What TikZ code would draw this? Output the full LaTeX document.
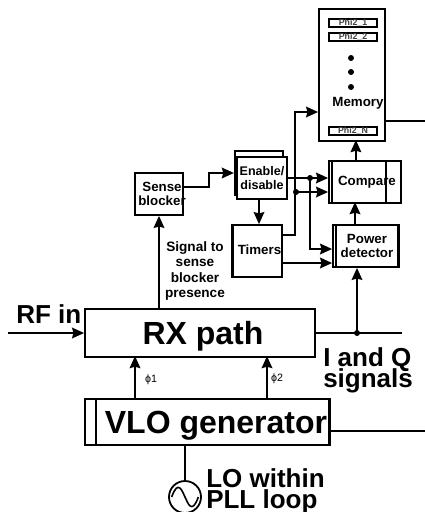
\documentclass[tikz,border=0pt]{standalone}
\usepackage{fontspec}
\usepackage{tikz}
\setmainfont{Liberation Sans}
\usetikzlibrary{positioning, arrows.meta, calc}

\begin{document}
\begin{tikzpicture}[
  x=0.75pt, y=-0.75pt,
  blk/.style={rectangle, draw=black, line width=1.35pt, fill=white, align=center,
              inner sep=0pt, font=\bfseries\fontsize{10}{11}\selectfont},
  slot/.style={rectangle, draw=black, line width=1.2pt, fill=white, minimum width=36pt,
               minimum height=6pt, inner sep=0pt, text=black!75,
               font=\bfseries\fontsize{6.6}{6}\selectfont},
  huge/.style={font=\bfseries\fontsize{24}{26}\selectfont},
  big/.style={font=\bfseries\fontsize{19.5}{18}\selectfont, align=left, inner sep=0pt},
  note/.style={font=\bfseries\fontsize{10.2}{11.4}\selectfont, align=center, inner sep=0pt},
  phase/.style={font=\fontsize{8}{9}\selectfont, inner sep=0pt},
  arr/.style={-{Stealth[length=9pt, width=8pt, inset=1pt]}, line width=1.35pt},
  wire/.style={line width=1.35pt},
  dot/.style={circle, fill=black, minimum size=4.5pt, inner sep=0pt}
]
  \useasboundingbox (0,0) rectangle (425,512);

  % boxes
  \node[blk, minimum width=49.5pt, minimum height=99pt] (memory) at (352,75) {};
  \node[slot] (phia) at (353,23) {Phi2\_1};
  \node[slot] (phib) at (353,37) {Phi2\_2};
  \node[slot] (phin) at (353,131) {Phi2\_N};
  \node[blk, draw=none, fill=none] (memtext) at (358,103) {Memory};
  \foreach \y/\n in {58/a, 72/b, 87/c}
    \node[dot] (pt\n) at (351,\y) {};

  \node[blk, minimum width=54pt, minimum height=31.5pt] (compare) at (365,182) {};
  \draw[wire] ([xshift=3pt]compare.north west) -- ([xshift=3pt]compare.south west);
  \draw[wire] ([xshift=-12pt]compare.north east) -- ([xshift=-12pt]compare.south east);
  \node[blk, draw=none, fill=none] (comptext) at (367,182) {Compare};

  \node[blk, minimum width=48.75pt, minimum height=31.5pt] (power) at (365.5,246) {};
  \draw[wire] ([xshift=3pt]power.north west) -- ([xshift=3pt]power.south west);
  \draw[line width=2.2pt] (power.north east) -- (power.south east);
  \node[blk, draw=none, fill=none] (powtext) at (367,246) {Power\\detector};

  \node[blk, minimum width=36.75pt, minimum height=39pt] (timers) at (257.5,251) {};
  \draw[line width=2.4pt] (timers.north west) -- (timers.south west);
  \node[blk, draw=none, fill=none] (timtext) at (259.5,250) {Timers};

  \node[blk, minimum width=36pt, minimum height=33pt] (back) at (259,173) {};
  \node[blk, minimum width=37.5pt, minimum height=31.5pt, font=\bfseries\fontsize{9.4}{11}\selectfont] (enable) at (262,178) {Enable/\\disable};

  \node[blk, minimum width=36pt, minimum height=31.5pt] (sense) at (159,194) {};
  \node[blk, draw=none, fill=none] (sensetext) at (162,194) {Sense\\blocker};

  \node[blk, huge, minimum width=172.5pt, minimum height=36pt] (rx) at (200,333) {};
  \node[blk, huge, draw=none, fill=none] (rxtext) at (203,336) {RX path};

  \node[blk, minimum width=183pt, minimum height=34.5pt] (vlo) at (207,422) {};
  \draw[wire] ([xshift=9pt]vlo.north west) -- ([xshift=9pt]vlo.south west);
  \draw[line width=2.2pt] (vlo.north east) -- (vlo.south east);
  \node[blk, huge, draw=none, fill=none] (vlotext) at (216,426) {VLO generator};

  \node[circle, draw=black, line width=1.35pt, minimum size=24pt, inner sep=0pt] (lo) at (185,497) {};
  \draw[line width=1.2pt] ([xshift=-10pt]lo.center) .. controls ([xshift=-5pt,yshift=14pt]lo.center) and ([xshift=-2pt,yshift=4pt]lo.center) .. (lo.center)
    .. controls ([xshift=2pt,yshift=-4pt]lo.center) and ([xshift=5pt,yshift=-14pt]lo.center) .. ([xshift=10pt]lo.center);

  % labels
  \node[big, anchor=west] (rflabel) at (16,314) {RF in};
  \node[big, anchor=west] (iqlabel) at (323,370) {I and Q\\[-2.4pt]signals};
  \node[big, anchor=west] (lolabel) at (206,491) {LO within\\[-2.4pt]PLL loop};
  \node[note] (signote) at (195,271) {Signal to\\sense\\blocker\\presence};
  \node[phase] (phione) at (151,380) {ϕ1};
  \node[phase] (phitwo) at (277,379) {ϕ2};

  % junctions and free ends
  \node[dot] (iqdot) at (357,333) {};
  \node[dot] (endot) at (310,178) {};
  \node[dot] (tmdot) at (296,192) {};
  \coordinate (rfin) at (8,333);
  \coordinate (iqout) at (402,333);
  \coordinate (memout) at (425,121);
  \coordinate (vloout) at (425,431);

  % connectors
  \draw[arr] (rfin) -- (rx.west);
  \draw[wire] (rx.east) -- (iqout);
  \draw[arr] (iqdot.center) -- (iqdot |- power.south);
  \draw[arr] (power.north -| compare.center) ++(-10,0) -- ++(0,-22);
  \draw[arr] (compare.north -| memory.east) ++(-30,0) -- ++(0,-20);
  \draw[wire] (memory.east |- memout) -- (memout);
  \draw[wire] (vlo.east |- vloout) -- (vloout);
  \draw[arr] (rx.north -| sense) -- (sense.south);
  \draw[arr] (sense.east) ++(0,-7) -- ++(25,0) -- ++(0,-14) -- ++(25,0);
  \draw[arr] (enable.south -| back) -- (timers.north -| back);
  \draw[arr] (timers.east |- 0,235) -- (295,235) -- (295,112) -- (memory.west |- 0,112);
  \draw[arr] (timers.east |- 0,263) -- (power.west |- 0,263);
  \draw[arr] (enable.east) -- (compare.west |- enable.east);
  \draw[arr] (endot.center) |- (power.west |- 0,249);
  \draw[arr] (tmdot.center) -- (compare.west |- tmdot);
  \draw[arr] (vlo.north -| phione) ++(-16,0) -- ++(0,-42);
  \draw[arr] (vlo.north -| phitwo) ++(-10,0) -- ++(0,-42);
  \draw[wire] (vlo.south -| lo) -- (lo.north);
\end{tikzpicture}
\end{document}
